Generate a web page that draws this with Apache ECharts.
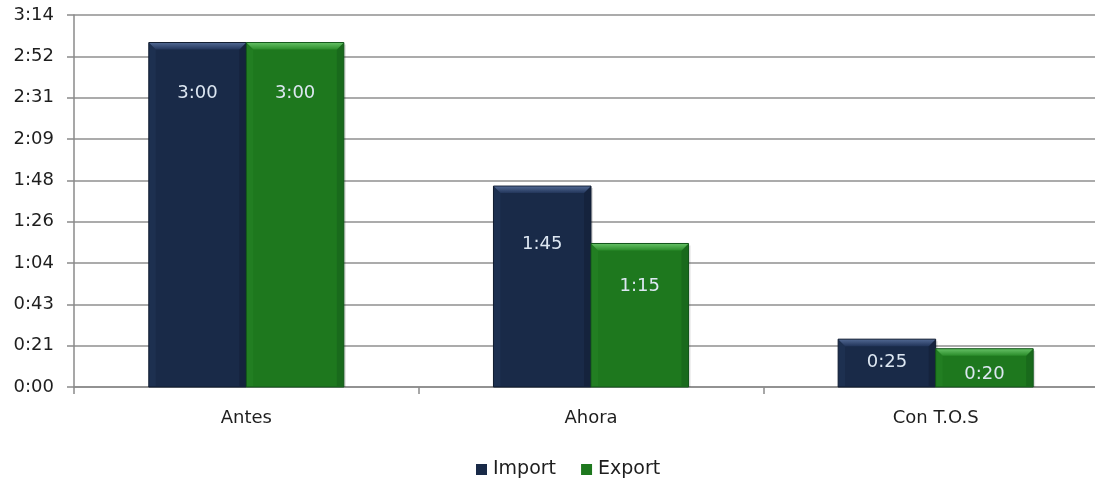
<!DOCTYPE html>
<html>
<head>
<meta charset="utf-8">
<script src="https://cdn.jsdelivr.net/npm/echarts@6/dist/echarts.min.js"></script>
<style>
  html, body { margin: 0; padding: 0; background: #ffffff; overflow: hidden; }
  #chart { width: 1112px; height: 480px; }
</style>
</head>
<body>
<div id="chart"></div>
<script>
// Durations in minutes, shown as h:mm
const categories = ['Antes', 'Ahora', 'Con T.O.S'];
const importMinutes = [180, 105, 25];
const exportMinutes = [180, 75, 20];
const seriesNames = ['Import', 'Export'];

// Axis runs in steps of 0.015 day (21.6 minutes)
const axisMin = 0;
const axisStep = 21.6;
const axisMax = 194.4;

// Styling: label drop below each bar top (px), per series
const labelDrop = [[42, 49, 14], [42, 34, 17]];
const palette = [
  { body: '#192a48', top: '#4f6690', topDark: '#22355a', side: '#223558', edge: '#0f1a2e' },
  { body: '#1e781e', top: '#62bd62', topDark: '#2a8c2a', side: '#258425', edge: '#12551a' }
];

function fmt(v) {
  const m = Math.floor(Math.round(v * 1000) / 1000 + 1e-6);
  const h = Math.floor(m / 60);
  const mm = m % 60;
  return h + ':' + (mm < 10 ? '0' : '') + mm;
}

const FONT = '"DejaVu Sans", sans-serif';

function makeRender(s) {
  return function (params, api) {
    const ci = api.value(0);
    const v = api.value(1);
    const top = api.coord([ci, v]);
    const base = api.coord([ci, 0]);
    const band = api.size([1, 0])[0];
    const w = band * 0.283;
    const x = top[0] - w + s * w;
    const y = top[1];
    const h = base[1] - top[1];
    const c = palette[s];
    const b = 7;
    return {
      type: 'group',
      children: [
        { type: 'rect', shape: { x: x + 2, y: y + 2, width: w, height: h - 2 },
          style: { fill: 'rgba(0,0,0,0.12)' } },
        { type: 'rect', shape: { x: x, y: y, width: w, height: h },
          style: { fill: c.body, stroke: c.edge, lineWidth: 1 } },
        { type: 'polygon', shape: { points: [[x + 0.5, y + 0.5], [x + b, y + b], [x + b, base[1] - 1], [x + 0.5, base[1] - 1]] },
          style: { fill: c.side, opacity: 0.5 } },
        { type: 'polygon', shape: { points: [[x + w - 0.5, y + 0.5], [x + w - b, y + b], [x + w - b, base[1] - 1], [x + w - 0.5, base[1] - 1]] },
          style: { fill: c.edge, opacity: 0.4 } },
        { type: 'polygon', shape: { points: [[x + 0.5, y + 0.5], [x + w - 0.5, y + 0.5], [x + w - b, y + b], [x + b, y + b]] },
          style: { fill: new echarts.graphic.LinearGradient(0, 0, 0, 1, [
            { offset: 0, color: c.top }, { offset: 1, color: c.topDark }]) } },
        { type: 'text', x: x + w / 2, y: y + labelDrop[s][params.dataIndex],
          style: { text: fmt(v), fill: '#dde7f2', font: '18px ' + FONT,
                   align: 'center', verticalAlign: 'top' } }
      ]
    };
  };
}

const chart = echarts.init(document.getElementById('chart'), null, { renderer: 'canvas' });
const seriesData = [importMinutes, exportMinutes];
chart.setOption({
  animation: false,
  grid: { left: 74, top: 15, width: 1034, height: 372, containLabel: false },
  legend: {
    data: seriesNames.map((n, i) => ({ name: n, icon: 'rect', itemStyle: { color: palette[i].body } })),
    bottom: -4, left: 471, itemWidth: 11, itemHeight: 11, itemGap: 25,
    textStyle: { fontFamily: FONT, fontSize: 19, color: '#1e1e1e', padding: [0, 0, 0, 1] }
  },
  xAxis: {
    type: 'category', data: categories,
    axisLine: { lineStyle: { color: '#8a8a8a', width: 1.5 } },
    axisTick: { show: true, length: 7, lineStyle: { color: '#8a8a8a', width: 1.5 } },
    axisLabel: { margin: 22, fontFamily: FONT, fontSize: 18, color: '#1e1e1e' }
  },
  yAxis: {
    type: 'value', min: axisMin, max: axisMax, interval: axisStep,
    axisLine: { show: true, lineStyle: { color: '#8a8a8a', width: 1.5 } },
    axisTick: { show: true, length: 7, lineStyle: { color: '#8a8a8a', width: 1.5 } },
    splitLine: { lineStyle: { color: '#8f8f8f', width: 1.5 } },
    axisLabel: { margin: 20, fontFamily: FONT, fontSize: 18, color: '#1e1e1e', formatter: fmt }
  },
  series: seriesNames.map((n, s) => ({
    name: n, type: 'custom',
    itemStyle: { color: palette[s].body },
    renderItem: makeRender(s),
    encode: { x: 0, y: 1 },
    data: seriesData[s].map((v, i) => [i, v])
  }))
});
</script>
</body>
</html>
